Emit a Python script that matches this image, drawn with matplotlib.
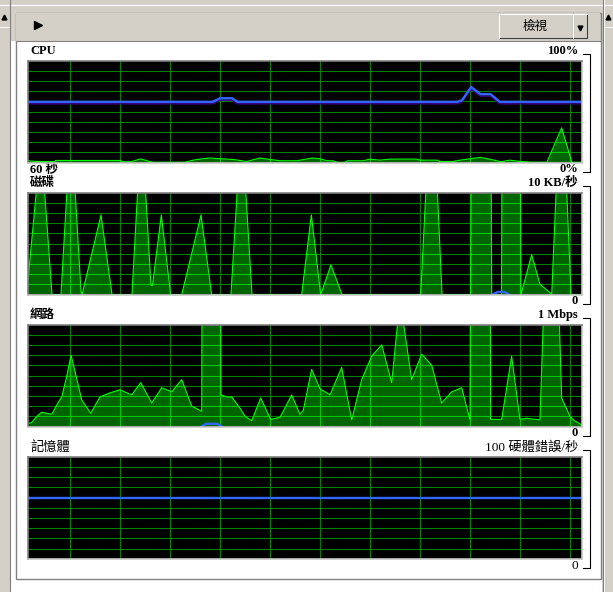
import numpy as np
import matplotlib.pyplot as plt
from matplotlib.patches import Rectangle
from matplotlib.transforms import offset_copy

W, H = 613, 592

# time axis in seconds (0..60), values in percent of each chart's full scale
cpu_t = [0, 0.9, 2.9, 3.0, 10.0, 10.3, 11.1, 12.2, 13.2, 13.5, 17.0, 17.6, 18.3,
         19.7, 20.8, 22.2, 23.7, 25.1, 26.2, 27.3, 29.1, 30.8, 31.6, 32.4, 33.0,
         33.5, 34.3, 34.6, 36.3, 37.0, 38.1, 39.2, 40.3, 41.4, 42.1, 42.5, 44.3,
         44.6, 46.0, 46.8, 47.9, 49.0, 50.0, 51.1, 51.4, 52.2, 53.3, 54.7, 56.2,
         57.8, 58.9, 60]
cpu_use = [1.7, 1.0, 1.0, 2.0, 2.0, 0.7, 0.7, 3.5, 1.0, 0.3, 0.3, 1.7, 3.0,
           4.4, 3.7, 3.0, 1.0, 4.4, 3.0, 1.7, 1.7, 4.4, 3.7, 1.7, 1.7,
           0.3, 0.3, 1.7, 1.7, 3.3, 2.3, 3.3, 3.3, 3.3, 3.3, 2.3, 2.3,
           1.0, 1.0, 2.3, 3.7, 5.0, 3.3, 1.0, 1.0, 2.3, 1.0, 0.3, 0.3,
           34, 0.3, 0.3]
cpu_freq_t = [0, 20.0, 20.8, 22.1, 22.7, 46.5, 47.0, 48.0, 49.0, 50.1, 51.1, 60]
cpu_freq = [59.5, 59.5, 63, 63, 59.5, 59.5, 61, 74, 67, 67, 59.5, 59.5]

disk_t = [0, 1.41, 2.60, 3.57, 4.66, 5.74, 5.85, 7.91, 9.10, 11.26, 12.29, 13.32,
          13.48, 14.44, 15.45, 16.65, 18.74, 19.89, 21.98, 23.12, 24.26, 29.64,
          30.69, 31.70, 32.81, 34.01, 42.53, 43.75, 44.84, 47.94, 49.06, 50.22,
          51.28, 52.30, 53.39, 54.55, 55.45, 56.53, 56.72, 57.78, 58.81, 60]
disk_val = [14, 150, 0, 0, 170, 3, 0, 78, 0, 0, 170, 9,
            9, 78, 0, 0, 78, 0, 0, 170, 0, 0,
            78, 0, 29, 0, 0, 220, 0, 0, 2500, 0,
            0, 2500, 0, 39, 10, 2, 0, 225, 0, 0]
disk_blue_t = [50.3, 50.9, 51.6, 52.1]
disk_blue = [0, 2.5, 2.5, 0]

net_t = [0.14, 0.40, 0.94, 1.48, 2.03, 2.57, 3.11, 3.65, 4.19, 4.66, 5.09, 5.82,
         6.79, 7.80, 8.34, 8.88, 9.96, 11.23, 12.21, 13.40, 14.48, 15.56, 16.65,
         17.73, 18.81, 19.82, 20.90, 21.52, 22.06, 22.96, 23.50, 24.23, 25.20,
         26.28, 27.29, 28.56, 29.45, 29.82, 30.72, 31.62, 32.71, 33.97, 35.06,
         36.14, 37.22, 38.31, 39.39, 40.29, 41.55, 42.64, 43.72, 44.80, 45.89,
         46.97, 47.87, 49.06, 50.11, 51.30, 52.38, 53.28, 54.01, 55.45, 56.70,
         57.80, 58.70, 59.06, 59.96]
net_val = [3.3, 3.9, 9.8, 14, 13, 12, 21, 29, 49, 70, 54, 26,
           13, 29, 31, 33, 36, 31, 43, 23, 38, 34, 46,
           20, 15, 3000, 31, 29, 29, 18, 10, 5.6, 28,
           7, 9, 31, 12, 16, 56, 37, 31, 58, 6.5,
           46, 69, 80, 43, 125, 46, 71, 60, 23, 34,
           38, 6.5, 3000, 7, 7, 69, 7, 8, 6.5, 350,
           28, 10, 6.5, 1.6]
net_blue_t = [18.8, 19.3, 20.5, 21.0]
net_blue = [0, 2.6, 2.6, 0]

mem_t = [0, 60]
mem_blue = [60, 60]

charts = [
    dict(title="CPU", top="100%", left_bottom="60 秒", bottom="0%",
         t=cpu_t, v=cpu_use, bt=cpu_freq_t, bv=cpu_freq, shadow=True, bold=True),
    dict(title="磁碟", top="10 KB/秒", left_bottom="", bottom="0",
         t=disk_t, v=disk_val, bt=disk_blue_t, bv=disk_blue, shadow=False, bold=True),
    dict(title="網路", top="1 Mbps", left_bottom="", bottom="0",
         t=net_t, v=net_val, bt=net_blue_t, bv=net_blue, shadow=False, bold=True),
    dict(title="記憶體", top="100 硬體錯誤/秒", left_bottom="", bottom="0",
         t=None, v=None, bt=mem_t, bv=mem_blue, shadow=False, bold=False),
]

GRAY = "#d4d0c8"
DARK = "#808080"
FONT = ["Liberation Serif", "Noto Sans CJK TC", "DejaVu Sans"]

fig = plt.figure(figsize=(W / 100, H / 100), dpi=100, facecolor=GRAY)
bg = fig.add_axes([0, 0, 1, 1])
bg.set_xlim(0, W)
bg.set_ylim(H, 0)
bg.axis("off")

# window chrome
bg.add_patch(Rectangle((10, 41), 592, H - 41, facecolor="white", edgecolor="none"))
bg.add_patch(Rectangle((15.5, 12.5), 585, 566, facecolor="none", edgecolor=DARK, lw=1))
bg.add_patch(Rectangle((16, 13), 584, 27.5, facecolor=GRAY, edgecolor="none"))
bg.plot([15.5, 600.5], [40.5, 40.5], color=DARK, lw=0.8)
bg.plot([0, W], [4.5, 4.5], color="white", lw=0.8)
bg.plot([9.5, 9.5], [0, H], color=DARK, lw=0.8)
bg.plot([602.5, 602.5], [0, H], color=DARK, lw=0.8)
bg.plot([603.5, 603.5], [0, H], color="white", lw=0.6)
bg.plot([0, 9], [26.5, 26.5], color="white", lw=0.6)
bg.plot([604, W], [26.5, 26.5], color="white", lw=0.6)
bg.plot([4], [17], marker="^", color="black", ms=3.5)
bg.plot([608], [17], marker="^", color="black", ms=3.5)
bg.plot([38], [25], marker=">", color="black", ms=5.5)

# view button with dropdown
for x0, w in [(499, 74), (573, 14)]:
    bg.add_patch(Rectangle((x0, 14), w, 24, facecolor=GRAY, edgecolor="none"))
    bg.plot([x0, x0 + w, x0 + w], [38, 38, 14], color="#404040", lw=0.8)
    bg.plot([x0, x0, x0 + w], [38, 14, 14], color="white", lw=0.8)
bg.text(535, 26.5, "檢視", family=["Noto Sans CJK TC"], fontsize=9,
        ha="center", va="center")
bg.plot([580], [28], marker="v", color="black", ms=3.5)

x0, cw, ch = 28, 554, 102
tops = [60.5, 192.5, 324.5, 456.7]
grid_t = 4.6 + 5.415 * np.arange(11)
grid_v = np.arange(10, 100, 10)

for c, top in zip(charts, tops):
    weight = "bold" if c["bold"] else "normal"
    fs = 9 if c["bold"] else 9.5
    bot = top + ch
    ty, by = top - 9.5, bot + 7
    bg.text(30, ty, c["title"], family=FONT, fontsize=fs, weight=weight,
            ha="left", va="center")
    bg.text(578, ty, c["top"], family=FONT, fontsize=fs, weight=weight,
            ha="right", va="center")
    if c["left_bottom"]:
        bg.text(30, by, c["left_bottom"], family=FONT, fontsize=fs,
                weight=weight, ha="left", va="center")
    bg.text(578, by, c["bottom"], family=FONT, fontsize=fs, weight=weight,
            ha="right", va="center")
    bg.plot([583, 590, 590, 583], [ty + 2.5, ty + 2.5, by + 2, by + 2],
            color="black", lw=0.8)

    ax = fig.add_axes([x0 / W, 1 - bot / H, cw / W, ch / H])
    ax.set_facecolor("black")
    ax.set_xlim(0, 60)
    ax.set_ylim(0, 100)
    ax.set_xticks([])
    ax.set_yticks([])
    for s in ["left", "top"]:
        ax.spines[s].set_color("#808080")
    for s in ["right", "bottom"]:
        ax.spines[s].set_color("#c8c8c8")
    for s in ax.spines.values():
        s.set_linewidth(1.2)
        s.set_zorder(8)

    for g in grid_t:
        ax.axvline(g, color="#008000", lw=0.8, zorder=1)
    for g in grid_v:
        ax.axhline(g, color="#008000", lw=0.8, zorder=1)

    if c["t"] is not None:
        poly = ax.fill_between(c["t"], c["v"], color="#006400", lw=0, zorder=2)
        path = poly.get_paths()[0]
        # grid shows brighter where it crosses the filled area
        for g in grid_t:
            ln = ax.axvline(g, color="#00c800", lw=0.8, zorder=3)
            ln.set_clip_path(path, ax.transData)
        for g in grid_v:
            ln = ax.axhline(g, color="#00c800", lw=0.8, zorder=3)
            ln.set_clip_path(path, ax.transData)
        ax.plot(c["t"], c["v"], color="#00ff00", lw=0.8, zorder=4)

    if c["shadow"]:
        tr = offset_copy(ax.transData, fig=fig, x=0, y=-2, units="dots")
        ax.plot(c["bt"], c["bv"], color="#400090", lw=1.0, zorder=5, transform=tr)
    ax.plot(c["bt"], c["bv"], color="#3366ff", lw=1.7, zorder=6)

fig.savefig("out.png", dpi=100, facecolor=GRAY)
